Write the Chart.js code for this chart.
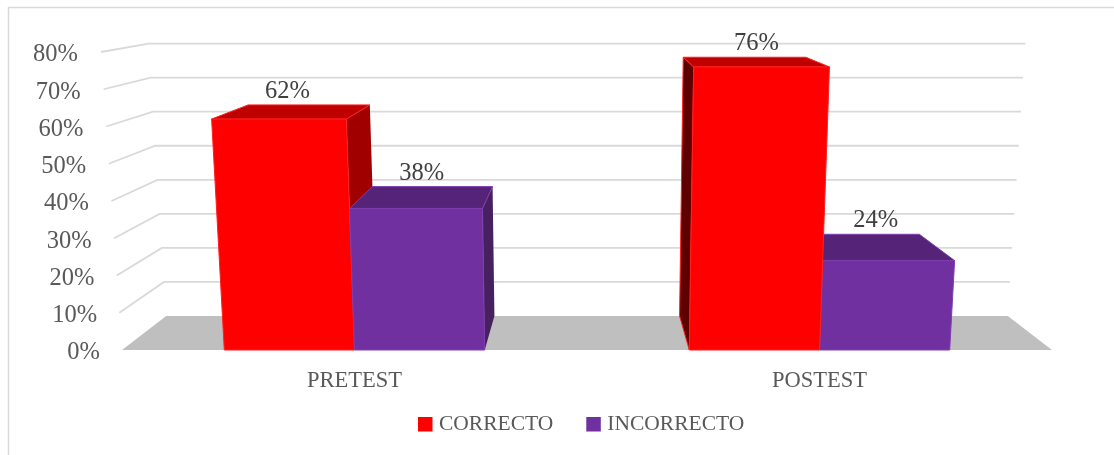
<!DOCTYPE html>
<html><head><meta charset="utf-8">
<style>html,body{margin:0;padding:0;background:#fff}canvas{display:block}</style>
<script src="https://cdn.jsdelivr.net/npm/chart.js@4"></script>
</head><body>
<canvas id="c" width="1114" height="455"></canvas>
<script>
const categories = ['PRETEST', 'POSTEST'];
const correcto = [62, 76];
const incorrecto = [38, 24];
const seriesNames = ['CORRECTO', 'INCORRECTO'];

const FONT = '"Liberation Serif", serif';
const faces = [
  {front:'#ff0000', top:'#bf0000', right:'#a00000', left:'#5f0000', edge:'#ff2020'},
  {front:'#7030a0', top:'#552478', right:'#47205f', left:'#47205f', edge:'#7d3eb0'}
];
const labelNudge = [[-2, 2], [2, -9]];

function projector(chart){
  const y = chart.scales.y, a = chart.chartArea;
  const cx = (a.left + a.right) / 2, half = (a.right - a.left) / 2;
  const y0 = y.getPixelForValue(0);
  return (px, v, d) => {
    const yf = y.getPixelForValue(v);
    const wf = half * (1 + 0.000565 * v);
    const wb = half * 0.905 * (1 + 0.00052 * v);
    const w = wf + (wb - wf) * d;
    const yb = y0 - 34 + (yf - y0) * 0.914;
    return [cx + (px - cx) / half * w, yf + (yb - yf) * d];
  };
}
function poly(ctx, pts, fill, stroke){
  ctx.beginPath();
  pts.forEach((p, i) => i ? ctx.lineTo(p[0], p[1]) : ctx.moveTo(p[0], p[1]));
  ctx.closePath();
  ctx.fillStyle = fill; ctx.fill();
  if (stroke){ ctx.strokeStyle = stroke; ctx.lineWidth = 1; ctx.stroke(); }
}
const box3d = {
  id:'box3d',
  beforeDraw(chart){
    const ctx = chart.ctx;
    ctx.save();
    ctx.strokeStyle = '#d9d9d9'; ctx.lineWidth = 1.5;
    ctx.beginPath(); ctx.moveTo(8.5, 455); ctx.lineTo(8.5, 7.5); ctx.lineTo(1114, 7.5); ctx.stroke();
    ctx.font = '21.5px ' + FONT; ctx.textAlign = 'left'; ctx.textBaseline = 'middle';
    let x = 418;
    chart.data.datasets.forEach(ds => {
      ctx.fillStyle = ds.backgroundColor; ctx.fillRect(x, 417, 14.5, 14.5);
      ctx.fillStyle = '#595959'; ctx.fillText(ds.label, x + 21, 424.5);
      x += 21 + ctx.measureText(ds.label).width + 33;
    });
    ctx.restore();
  },
  beforeDatasetsDraw(chart){
    const ctx = chart.ctx, P = projector(chart), a = chart.chartArea, ys = chart.scales.y;
    ctx.save();
    poly(ctx, [P(a.left,0,0), P(a.left,0,1), P(a.right,0,1), P(a.right,0,0)], '#bfbfbf');
    ctx.strokeStyle = '#d9d9d9'; ctx.lineWidth = 1.8;
    ys.ticks.forEach(t => {
      if (t.value === 0) return;
      const f = P(a.left,t.value,0), b = P(a.left,t.value,1), r = P(a.right,t.value,1);
      ctx.beginPath(); ctx.moveTo(f[0],f[1]); ctx.lineTo(b[0],b[1]); ctx.lineTo(r[0],r[1]); ctx.stroke();
    });
    ctx.font = '24.5px ' + FONT; ctx.fillStyle = '#595959';
    ctx.textAlign = 'right'; ctx.textBaseline = 'middle';
    ys.ticks.forEach(t => {
      const f = P(a.left - 22, t.value, 0);
      ctx.fillText(t.label, f[0], f[1] + 3);
    });
    const cx = (a.left + a.right) / 2;
    const labels = [];
    categories.forEach((_, ci) => {
      const els = chart.data.datasets.map((ds, si) => ({si, el: chart.getDatasetMeta(si).data[ci], v: ds.data[ci]}));
      els.sort((p, q) => Math.abs(q.el.x - cx) - Math.abs(p.el.x - cx));
      els.forEach(({si, el, v}) => {
        const L = el.x - el.width / 2, R = el.x + el.width / 2, c = faces[si];
        if (R < cx) poly(ctx, [P(R,v,0), P(R,v,1), P(R,0,1), P(R,0,0)], c.right);
        if (L > cx) poly(ctx, [P(L,v,0), P(L,v,1), P(L,0,1), P(L,0,0)], c.left, c.edge);
        poly(ctx, [P(L,v,0), P(L,v,1), P(R,v,1), P(R,v,0)], c.top, c.edge);
        poly(ctx, [P(L,0,0), P(L,v,0), P(R,v,0), P(R,0,0)], c.front, c.edge);
        const top = P(L, v, 1);
        labels.push([v + '%', el.x + labelNudge[ci][si], top[1] - 13.5]);
      });
    });
    ctx.font = '24.5px ' + FONT; ctx.fillStyle = '#404040'; ctx.textAlign = 'center';
    labels.forEach(l => ctx.fillText(l[0], l[1], l[2]));
    ctx.restore();
    return false;
  }
};

new Chart(document.getElementById('c'), {
  type:'bar',
  data:{
    labels: categories,
    datasets:[
      {label: seriesNames[0], data: correcto, backgroundColor:'#ff0000'},
      {label: seriesNames[1], data: incorrecto, backgroundColor:'#7030a0'}
    ]
  },
  plugins:[box3d],
  options:{
    responsive:false, animation:false,
    categoryPercentage:0.56, barPercentage:1,
    layout:{padding:{left:114, right:62, top:52, bottom:50}},
    plugins:{ tooltip:{enabled:false}, legend:{display:false} },
    scales:{
      x:{grid:{display:false}, border:{display:false},
         ticks:{color:'#595959', padding:10, font:{family:FONT, size:22.5}, maxRotation:0}},
      y:{min:0, max:80, grid:{display:false}, border:{display:false},
         ticks:{display:false, stepSize:10, callback:v => v + '%'}}
    }
  }
});
</script>
</body></html>
